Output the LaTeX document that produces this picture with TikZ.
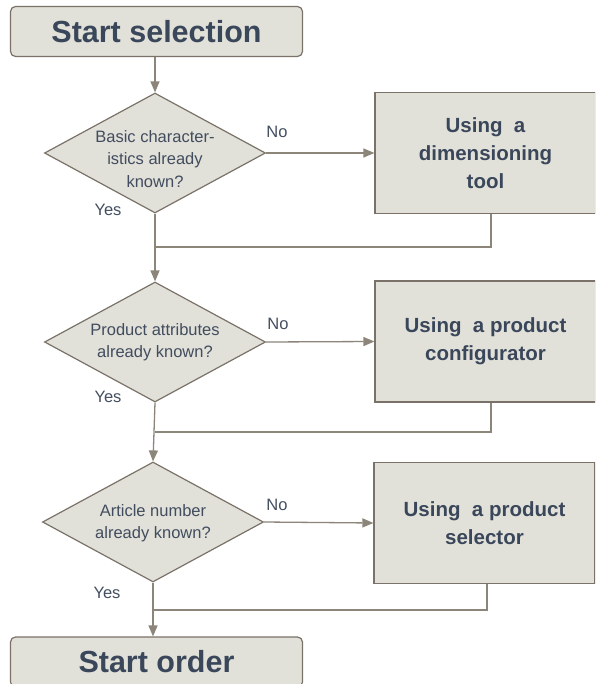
\documentclass[tikz,border=0pt]{standalone}
\usepackage{fontspec}
\setmainfont{Liberation Sans}
\usetikzlibrary{arrows.meta,shapes.geometric}
\definecolor{boxfill}{RGB}{225,225,217}
\definecolor{boxline}{RGB}{122,114,104}
\definecolor{flowline}{RGB}{140,133,122}
\definecolor{inktext}{RGB}{58,70,90}
\tikzset{
    terminal/.style={draw=boxline,fill=boxfill,line width=1.2pt,rounded corners=5pt,
        minimum width=292pt,minimum height=50pt,inner sep=0pt,
        font=\fontsize{30.5}{33}\selectfont\bfseries,text=inktext},
    decision/.style={diamond,draw=boxline,fill=boxfill,line width=1.2pt,
        minimum width=221pt,minimum height=120pt,inner sep=0pt},
    asktext/.style={align=center,font=\fontsize{16.5}{22.5}\selectfont,text=inktext!90!gray},
    toolbox/.style={draw=boxline,fill=boxfill,line width=1.2pt,
        minimum width=221pt,minimum height=121pt,inner sep=0pt,align=center,
        font=\fontsize{20.5}{28}\selectfont\bfseries,text=inktext},
    flow/.style={draw=flowline,line width=1.3pt},
    flowarrow/.style={flow,-{Triangle[length=11pt,width=9pt]}},
    answer/.style={font=\fontsize{16.5}{18}\selectfont,text=inktext!85!gray}
}
\begin{document}
\begin{tikzpicture}[x=1pt,y=-1pt,>=Stealth]
    \clip (0,0) rectangle (595,684);
    \fill[white] (0,0) rectangle (595,684);
    % Start and end
    \node[terminal] (startsel) at (156.5,31.5) {Start selection};
    \node[terminal] (startord) at (156.5,662) {Start order};
    % Questions
    \node[decision] (askbasic) at (155,153) {};
    \node[asktext] (basictext) at (155,159) {Basic character-\\istics already\\known?};
    \node[decision] (askattr) at (155,342) {};
    \node[asktext] (attrtext) at (155,342) {Product attributes\\already known?};
    \node[decision] (askart) at (153,522) {};
    \node[asktext] (arttext) at (153,523) {Article number\\already known?};
    % Tools
    \node[toolbox] (dimtool) at (485.5,153) {Using\ \ a\\dimensioning\\tool};
    \node[toolbox] (conftool) at (485.5,341.5) {Using\ \ a product\\configurator};
    \node[toolbox] (seltool) at (484.5,523) {Using\ \ a product\\selector};
    % Joins on the main line
    \coordinate (joinone) at (155,247);
    \coordinate (jointwo) at (155,432);
    \coordinate (jointhree) at (155,610);
    % Main line
    \draw[flowarrow] (startsel.south -| askbasic) -- (askbasic.north);
    \draw[flowarrow] (askbasic.south) -- (askattr.north);
    \draw[flowarrow] (askattr.south) -- (askart.north);
    \draw[flowarrow] (askart.south) -- (askart.south |- startord.north);
    % No branches
    \draw[flowarrow] (askbasic.east) -- (dimtool.west);
    \draw[flowarrow] (askattr.east) -- (conftool.west);
    \draw[flowarrow] (askart.east) -- (seltool.west);
    % Back to the main line
    \draw[flow] ([xshift=5.5pt]dimtool.south) |- (joinone);
    \draw[flow] ([xshift=5.5pt]conftool.south) |- (jointwo);
    \draw[flow] ([xshift=2.5pt]seltool.south) |- (jointhree -| askart);
    % Answers
    \node[answer] (noone) at (277,132) {No};
    \node[answer] (yesone) at (108,210) {Yes};
    \node[answer] (notwo) at (278,324) {No};
    \node[answer] (yestwo) at (108,397) {Yes};
    \node[answer] (nothree) at (277,505) {No};
    \node[answer] (yesthree) at (107,593) {Yes};
\end{tikzpicture}
\end{document}
